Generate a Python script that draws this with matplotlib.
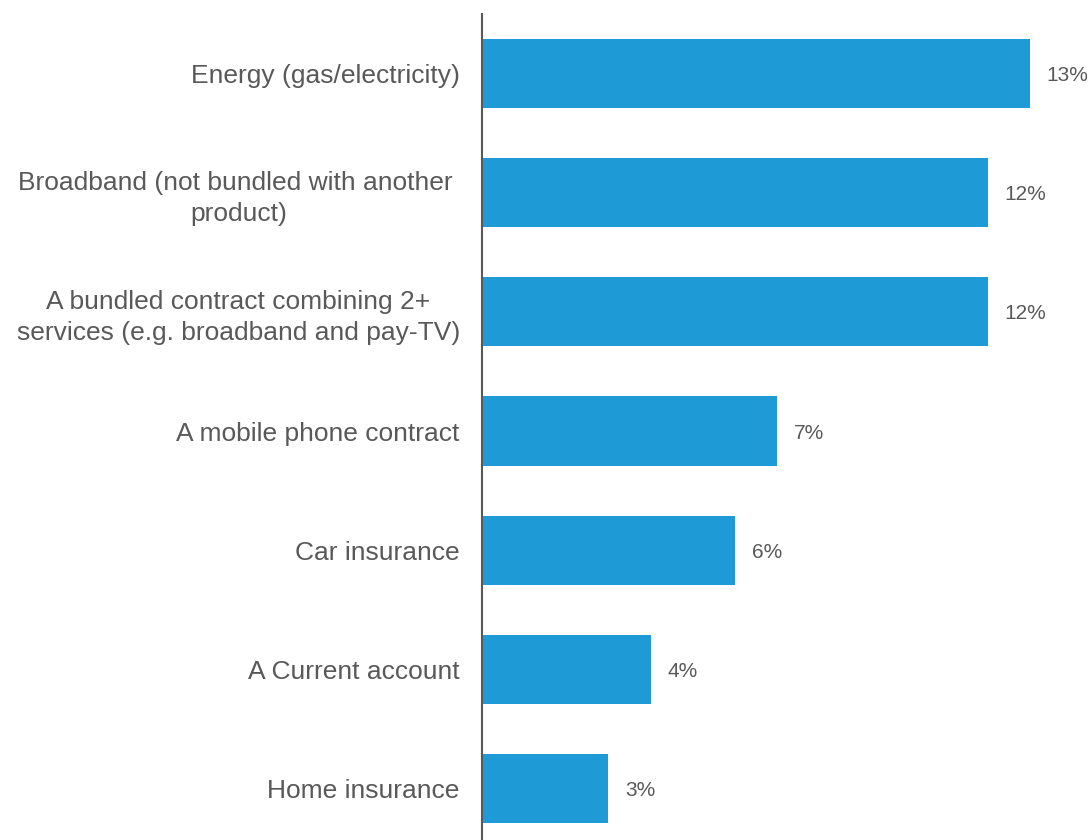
import matplotlib.pyplot as plt

plt.rcParams['font.family'] = ['Liberation Sans', 'DejaVu Sans']

# Data
categories = [
    "Energy (gas/electricity)",
    "Broadband (not bundled with another \nproduct)",
    "A bundled contract combining 2+\nservices (e.g. broadband and pay-TV)",
    "A mobile phone contract",
    "Car insurance",
    "A Current account",
    "Home insurance",
]
values = [13, 12, 12, 7, 6, 4, 3]

fig = plt.figure(figsize=(10.92, 8.40), dpi=100)
ax = fig.add_axes([482 / 1092, -8 / 840, 1 - 482 / 1092, 834 / 840])

pos = list(range(len(categories)))
ax.barh(pos, values, height=0.58, color='#1E9BD7')
ax.set_ylim(len(categories) - 0.5, -0.5)
ax.set_xlim(0, 14.47)

ax.set_yticks(pos)
ax.set_yticklabels(categories, fontsize=19, color='#595959',
                   multialignment='center', linespacing=1.35)
ax.tick_params(axis='y', length=0, pad=16)
ax.set_xticks([])

for s in ['top', 'right', 'bottom']:
    ax.spines[s].set_visible(False)
ax.spines['left'].set_color('#595959')
ax.spines['left'].set_linewidth(1.5)

for p, v in zip(pos, values):
    ax.annotate(f"{v}%", (v, p), xytext=(12, 0), textcoords='offset points',
                va='center_baseline', ha='left', fontsize=15, color='#595959')

fig.savefig("out.png", dpi=100)
